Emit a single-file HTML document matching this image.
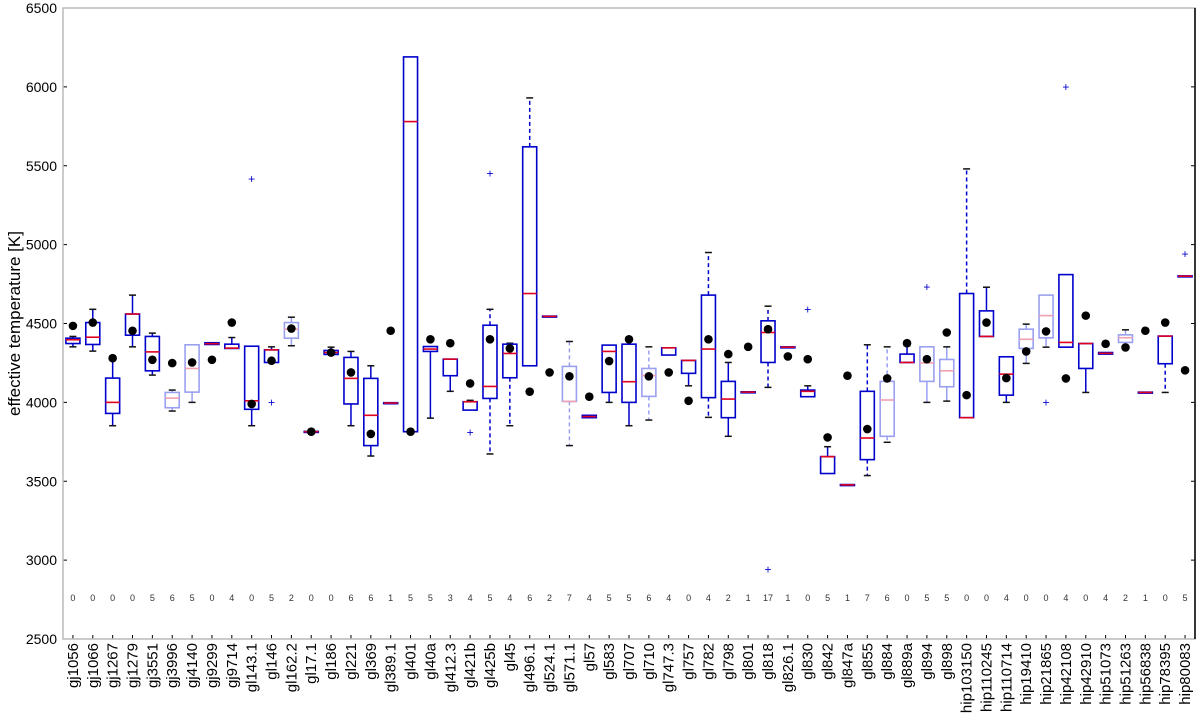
<!DOCTYPE html>
<html><head><meta charset="utf-8"><style>
body{margin:0;background:#fff;}
svg{display:block;font-family:"Liberation Sans","DejaVu Sans",sans-serif;}
</style></head><body>
<svg id="chart" width="1200" height="718" viewBox="0 0 1200 718" xmlns="http://www.w3.org/2000/svg">
<rect x="0" y="0" width="1200" height="718" fill="#fff"/>
<g id="marks"></g>
<g id="axes"></g>
</svg>
<script>
const names=["gj1056","gj1066","gj1267","gj1279","gj3551","gj3996","gj4140","gj9299","gj9714","gl143.1","gl146","gl162.2","gl17.1","gl186","gl221","gl369","gl389.1","gl401","gl40a","gl412.3","gl421b","gl425b","gl45","gl496.1","gl524.1","gl571.1","gl57","gl583","gl707","gl710","gl747.3","gl757","gl782","gl798","gl801","gl818","gl826.1","gl830","gl842","gl847a","gl855","gl884","gl889a","gl894","gl898","hip103150","hip110245","hip110714","hip19410","hip21865","hip42108","hip42910","hip51073","hip51263","hip56838","hip78395","hip80083"];
const counts=["0","0","0","0","5","6","5","0","4","0","5","2","0","0","6","6","1","5","5","3","4","5","4","6","2","7","4","5","5","6","4","0","4","2","1","17","1","0","5","1","7","6","0","5","5","0","0","4","0","0","4","0","4","2","1","0","5"];
const q1=[4373,4367,3930,4426,4200,3966,4065,4367,4342,3956,4253,4407,3812,4304,3990,3726,3994,3814,4323,4169,3951,4025,4156,4232,4543,4006,3903,4063,4000,4038,4300,4184,4030,3903,4063,4253,4348,4036,3549,3475,3637,3785,4253,4133,4099,3903,4418,4046,4342,4409,4350,4215,4306,4380,4061,4245,4798];
const med=[4397,4413,4000,4560,4320,4027,4215,4372,4344,4010,4333,4464,3814,4316,4152,3918,3996,5780,4338,4274,4004,4101,4310,4690,4545,4006,3910,4323,4131,4170,4346,4266,4338,4021,4065,4443,4350,4070,3656,3477,3774,4015,4253,4250,4200,3903,4418,4179,4400,4550,4380,4373,4311,4410,4063,4420,4800];
const q3=[4407,4506,4154,4560,4418,4063,4365,4378,4369,4356,4333,4506,3816,4329,4285,4152,3998,6190,4354,4274,4004,4489,4369,5620,4547,4228,3918,4363,4369,4215,4346,4266,4680,4133,4067,4517,4352,4078,3656,3479,4070,4133,4306,4352,4272,4690,4580,4289,4464,4680,4810,4373,4316,4428,4065,4420,4802];
const wlo=[4352,4325,3852,4352,4173,3945,4000,4367,4342,3852,4253,4359,3812,4304,3852,3660,3994,3814,3900,4070,3951,3673,3852,4232,4543,3726,3903,4000,3852,3888,4300,4105,3905,3785,4063,4095,4348,4036,3549,3475,3536,3747,4253,4000,4008,3903,4418,4000,4247,4350,4350,4063,4306,4380,4061,4063,4798];
const whi=[4418,4590,4290,4680,4439,4078,4365,4380,4411,4356,4352,4540,3816,4350,4323,4232,3998,6190,4354,4274,4013,4590,4375,5930,4547,4386,3918,4363,4369,4352,4346,4266,4950,4253,4067,4610,4352,4105,3719,3479,4365,4352,4359,4352,4352,5480,4730,4289,4496,4680,4810,4373,4316,4460,4065,4420,4802];
const dots=[4485,4506,4280,4454,4270,4249,4253,4270,4506,3990,4264,4468,3814,4316,4190,3800,4454,3814,4400,4375,4120,4400,4342,4068,4190,4165,4036,4262,4400,4165,4190,4010,4400,4306,4352,4464,4291,4274,3778,4169,3831,4152,4375,4274,4443,4046,4506,4154,4323,4450,4152,4550,4371,4348,4454,4506,4203];
const outliers=[[],[],[],[],[],[],[],[],[],[5415],[4000],[],[],[],[],[],[],[],[],[],[3810],[5450],[],[],[],[],[],[],[],[],[],[],[],[],[],[2941],[],[4590],[],[],[],[],[],[4730],[],[],[],[],[],[4000],[6000],[],[],[],[],[],[4940]];
const light=[0,0,0,0,0,1,1,0,0,0,0,1,0,0,0,0,0,0,0,0,0,0,0,0,0,1,0,0,0,1,0,0,0,0,0,0,0,0,0,0,0,1,0,1,1,0,0,0,1,1,0,0,0,1,0,0,0];
const dashed=[0,0,0,0,0,0,0,0,0,0,0,0,0,0,0,0,0,0,0,0,0,1,1,1,0,1,0,0,0,1,0,0,1,0,0,1,0,0,0,0,1,1,0,0,0,1,0,0,0,0,1,0,0,0,0,1,0];
const yTicks=[2500,3000,3500,4000,4500,5000,5500,6000,6500];

const L=63,R=1195,T=8,B=639,ymin=2500,ymax=6500;
const xs=i=>L+(R-L)/names.length*(i+0.5);
const ys=v=>B-(v-ymin)/(ymax-ymin)*(B-T);
const NS="http://www.w3.org/2000/svg";
const marks=document.getElementById('marks'),axes=document.getElementById('axes');
function mk(tag,attrs,parent){const e=document.createElementNS(NS,tag);for(const k in attrs)e.setAttribute(k,attrs[k]);parent.appendChild(e);return e;}

names.forEach((n,i)=>{
  const g=mk('g',{},marks);
  
  
  const x=xs(i),hw=7;
  const col=light[i]?'#9aa0f0':'#0000cc';
  const mcol=light[i]?'#f0a0b0':'#e00020';
  const da=dashed[i]?'4,3':'none';
  // whiskers
  mk('line',{x1:x,x2:x,y1:ys(q3[i]),y2:ys(whi[i]),stroke:col,'stroke-width':1.5,'stroke-dasharray':da},g);
  mk('line',{x1:x,x2:x,y1:ys(q1[i]),y2:ys(wlo[i]),stroke:col,'stroke-width':1.5,'stroke-dasharray':da},g);
  if(whi[i]>q3[i]+2) mk('line',{x1:x-3.5,x2:x+3.5,y1:ys(whi[i]),y2:ys(whi[i]),stroke:'#111','stroke-width':1.5},g);
  if(wlo[i]<q1[i]-2) mk('line',{x1:x-3.5,x2:x+3.5,y1:ys(wlo[i]),y2:ys(wlo[i]),stroke:'#111','stroke-width':1.5},g);
  // box
  const h=Math.max(ys(q1[i])-ys(q3[i]),1);
  mk('rect',{x:x-hw,y:ys(q3[i]),width:2*hw,height:h,fill:'none',stroke:col,'stroke-width':1.6},g);
  mk('line',{x1:x-hw,x2:x+hw,y1:ys(med[i]),y2:ys(med[i]),stroke:mcol,'stroke-width':1.6},g);
  outliers[i].forEach(o=>{
    mk('text',{x:x,y:ys(o)+4,'text-anchor':'middle','font-size':12,fill:'#0000cc'},g).textContent='+';
  });
  const d=mk('circle',{cx:x,cy:ys(dots[i]),r:4.3,fill:'#000'},g);
  
  
  const c=mk('text',{x:x,y:601,'text-anchor':'middle','font-size':9,fill:'#333'},marks);
  c.textContent=counts[i];
  
  
  mk('line',{x1:x,x2:x,y1:B,y2:B-4,stroke:'#000','stroke-width':1},axes);
  const t=mk('text',{x:0,y:0,'text-anchor':'end','font-size':15,fill:'#000',transform:`translate(${x+5},${B+4}) rotate(-90)`},axes);
  t.textContent=n;
  
  
});
yTicks.forEach(v=>{
  mk('line',{x1:L,x2:L+4,y1:ys(v),y2:ys(v),stroke:'#000','stroke-width':1},axes);
  mk('line',{x1:R,x2:R-4,y1:ys(v),y2:ys(v),stroke:'#000','stroke-width':1},axes);
  const t=mk('text',{x:L-6,y:ys(v)+5,'text-anchor':'end','font-size':14,fill:'#000'},axes);
  t.textContent=v;
  
  
});
const fr=mk('rect',{x:L,y:T,width:R-L,height:B-T,fill:'none',stroke:'#bbb','stroke-width':1.5},axes);


mk('line',{x1:R,x2:R,y1:T,y2:B,stroke:'#000','stroke-width':1.5},axes);
const yl=mk('text',{x:0,y:0,'text-anchor':'middle','font-size':17,fill:'#000',transform:`translate(20,${(T+B)/2}) rotate(-90)`},axes);
yl.textContent='effective temperature [K]';


</script>
</body></html>
